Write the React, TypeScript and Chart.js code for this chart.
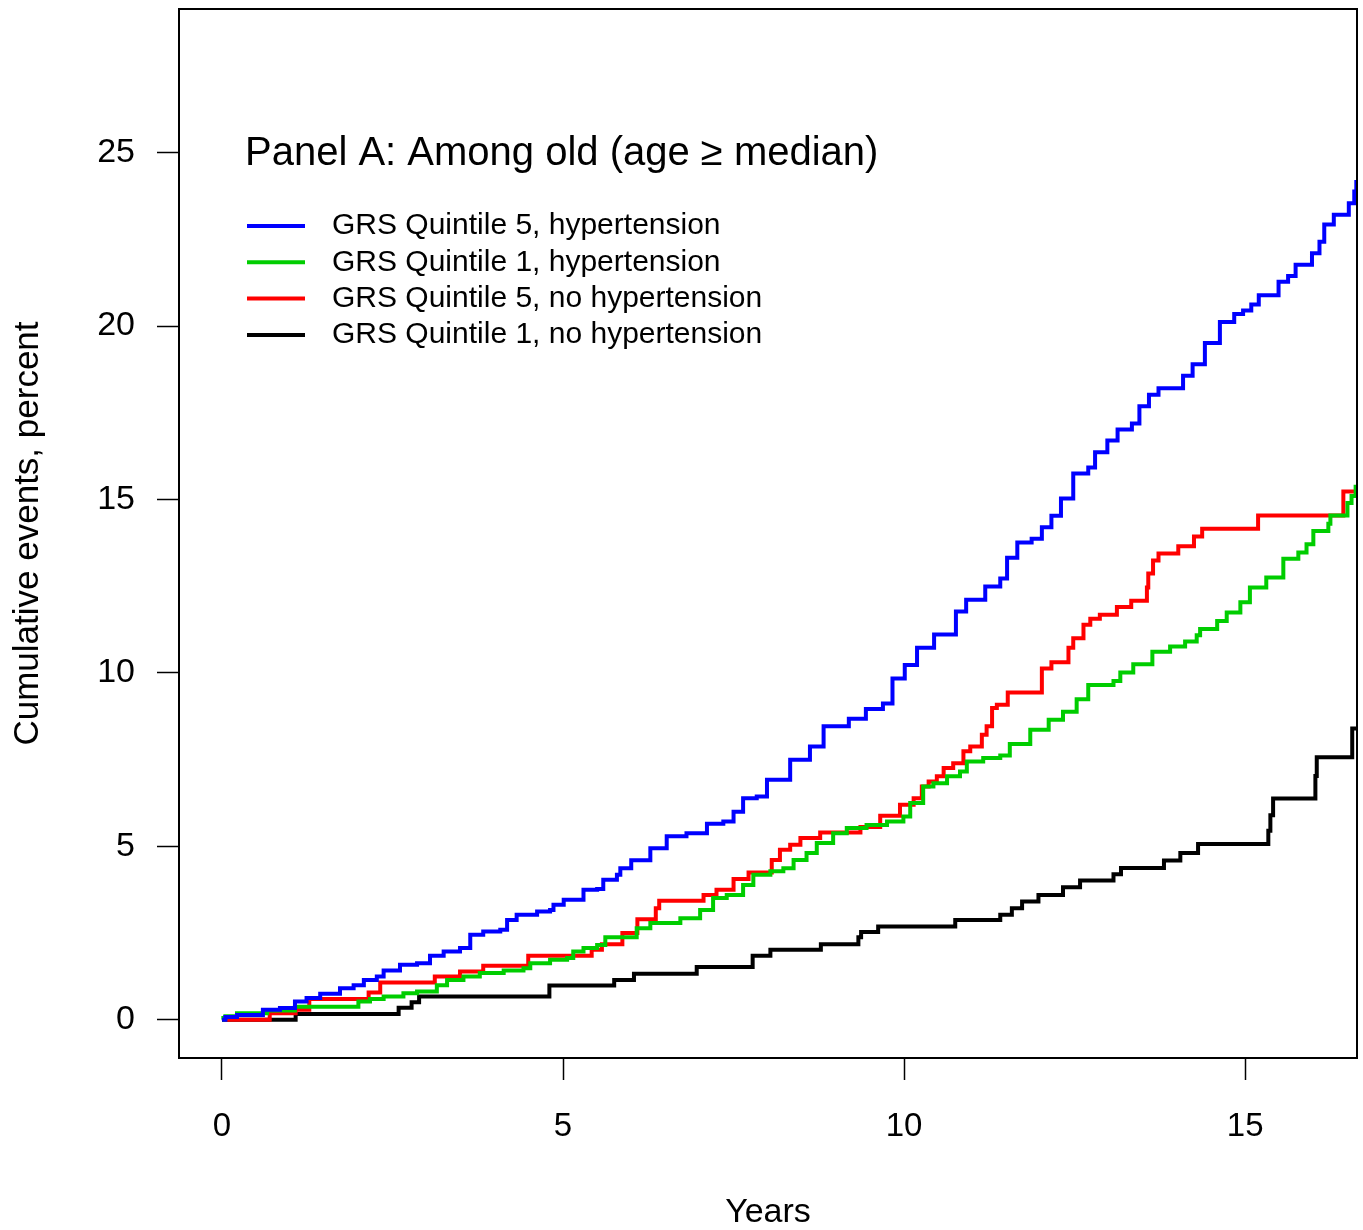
import React, { useEffect, useRef } from "react";
import { Chart, registerables } from "chart.js";

Chart.register(...registerables);

const FONT = "'Liberation Sans', Arial, Helvetica, sans-serif";

const panelTitle = "Panel A: Among old (age \u2265 median)";
const xAxisTitle = "Years";
const yAxisTitle = "Cumulative events, percent";
const xTicks = [0, 5, 10, 15];
const yTicks = [0, 5, 10, 15, 20, 25];

const seriesLabels = [
  "GRS Quintile 5, hypertension",
  "GRS Quintile 1, hypertension",
  "GRS Quintile 5, no hypertension",
  "GRS Quintile 1, no hypertension",
];
const seriesColors = ["#0000FF", "#00CD00", "#FF0000", "#000000"];

// GRS Quintile 5, hypertension (blue)
const q5HtnYears = [
  0, 0.05, 0.22, 0.6, 0.85, 1.07, 1.24, 1.44, 1.73, 1.93, 2.08, 2.27, 2.37, 2.61, 2.86, 3.05, 3.25, 3.49, 3.64,
  3.83, 4.08, 4.18, 4.32, 4.62, 4.81, 4.86, 5.01, 5.3, 5.5, 5.59, 5.79, 5.84, 6.0, 6.28, 6.52, 6.81, 7.11, 7.35,
  7.5, 7.64, 7.84, 7.99, 8.33, 8.62, 8.82, 9.19, 9.44, 9.69, 9.83, 10.01, 10.19, 10.44, 10.76, 10.91, 11.19,
  11.41, 11.51, 11.66, 11.87, 12.02, 12.16, 12.3, 12.48, 12.7, 12.8, 12.98, 13.13, 13.34, 13.45, 13.59, 13.73,
  14.09, 14.23, 14.41, 14.63, 14.84, 14.97, 15.09, 15.2, 15.49, 15.63, 15.74, 15.98, 16.09, 16.16, 16.3, 16.52,
  16.6, 16.63, 16.7,
];
const q5HtnPct = [
  0, 0.08, 0.14, 0.29, 0.34, 0.53, 0.63, 0.75, 0.91, 1.0, 1.15, 1.25, 1.42, 1.59, 1.63, 1.85, 1.97, 2.07, 2.45,
  2.55, 2.6, 2.88, 3.03, 3.12, 3.17, 3.32, 3.46, 3.75, 3.77, 4.04, 4.18, 4.37, 4.6, 4.95, 5.29, 5.38, 5.65, 5.72,
  6.0, 6.39, 6.44, 6.92, 7.5, 7.88, 8.46, 8.68, 8.96, 9.12, 9.84, 10.23, 10.73, 11.11, 11.77, 12.11, 12.49,
  12.72, 13.32, 13.76, 13.87, 14.2, 14.53, 15.03, 15.75, 15.92, 16.36, 16.7, 17.02, 17.19, 17.69, 18.02, 18.21,
  18.57, 18.9, 19.51, 20.12, 20.35, 20.45, 20.62, 20.89, 21.28, 21.44, 21.77, 22.1, 22.43, 22.93, 23.21, 23.54,
  23.88, 24.15, 24.15,
];

// GRS Quintile 1, hypertension (green)
const q1HtnYears = [
  0, 0.02, 0.05, 0.22, 0.66, 1.07, 2.0, 2.17, 2.37, 2.66, 2.86, 3.15, 3.3, 3.54, 3.78, 4.13, 4.42, 4.52, 4.81,
  5.06, 5.15, 5.3, 5.5, 5.62, 6.08, 6.28, 6.72, 7.01, 7.2, 7.4, 7.64, 7.79, 8.04, 8.23, 8.38, 8.57, 8.72, 8.96,
  9.16, 9.45, 9.75, 9.99, 10.09, 10.28, 10.43, 10.63, 10.82, 10.92, 11.16, 11.41, 11.55, 11.85, 12.12, 12.33,
  12.53, 12.7, 13.07, 13.17, 13.36, 13.64, 13.9, 14.12, 14.29, 14.34, 14.59, 14.73, 14.93, 15.07, 15.31, 15.56,
  15.78, 15.9, 16.0, 16.22, 16.25, 16.5, 16.56, 16.62, 16.7,
];
const q1HtnPct = [
  0, 0.05, 0.1, 0.19, 0.27, 0.38, 0.53, 0.6, 0.67, 0.77, 0.82, 1.0, 1.15, 1.25, 1.35, 1.42, 1.49, 1.63, 1.73,
  1.78, 1.97, 2.07, 2.16, 2.38, 2.64, 2.79, 2.93, 3.17, 3.51, 3.6, 3.89, 4.18, 4.28, 4.37, 4.61, 4.81, 5.1, 5.38,
  5.53, 5.62, 5.72, 5.86, 6.25, 6.73, 6.82, 7.02, 7.16, 7.45, 7.55, 7.62, 7.95, 8.36, 8.65, 8.88,
  9.24, 9.65, 9.77, 10.01, 10.25, 10.61, 10.76, 10.91, 11.09, 11.27, 11.5, 11.74, 12.04, 12.46, 12.75, 13.29,
  13.47, 13.71, 14.09, 14.3, 14.54, 14.9, 15.1, 15.37, 15.37,
];

// GRS Quintile 5, no hypertension (red)
const q5NoHtnYears = [
  0, 0.7, 1.08, 1.28, 2.15, 2.32, 3.12, 3.49, 3.83, 4.49, 5.42, 5.57, 5.87, 6.09, 6.36, 6.41, 7.06, 7.25, 7.5,
  7.72, 8.06, 8.18, 8.33, 8.48, 8.77, 9.36, 9.65, 9.94, 10.14, 10.26, 10.36, 10.48, 10.58, 10.72, 10.87, 10.97,
  11.14, 11.21, 11.29, 11.36, 11.52, 12.02, 12.16, 12.41, 12.48, 12.63, 12.73, 12.87, 13.12, 13.33, 13.56,
  13.58, 13.65, 13.73, 14.02, 14.25, 14.37, 15.19, 16.44, 16.7,
];
const q5NoHtnPct = [
  0, 0.19, 0.29, 0.6, 0.79, 1.08, 1.25, 1.39, 1.56, 1.85, 2.02, 2.18, 2.5, 2.9, 3.22, 3.43, 3.6, 3.75, 4.06,
  4.25, 4.61, 4.9, 5.05, 5.24, 5.4, 5.56, 5.88, 6.2, 6.39, 6.73, 6.87, 7.02, 7.26, 7.4, 7.74, 7.88,
  8.22, 8.46, 8.99, 9.08, 9.44, 10.13, 10.31, 10.73, 11.0, 11.39, 11.56, 11.68, 11.9, 12.08, 12.46,
  12.87, 13.24, 13.44, 13.65, 13.93, 14.16, 14.54, 15.23, 15.23,
];

// GRS Quintile 1, no hypertension (black)
const q1NoHtnYears = [
  0, 1.08, 2.59, 2.78, 2.89, 4.8, 5.75, 6.04, 6.96, 7.78, 8.04, 8.78, 9.33, 9.37, 9.62, 10.75, 11.41, 11.58,
  11.73, 11.97, 12.33, 12.58, 13.07, 13.18, 13.81, 14.05, 14.31, 15.34, 15.37, 15.41, 16.03, 16.05, 16.57, 16.7,
];
const q1NoHtnPct = [
  0, 0.17, 0.35, 0.51, 0.67, 0.99, 1.15, 1.33, 1.52, 1.85, 2.02, 2.18, 2.38, 2.53, 2.69, 2.88, 3.03, 3.22,
  3.41, 3.6, 3.82, 4.02, 4.2, 4.38, 4.59, 4.81, 5.07, 5.45, 5.9, 6.38, 7.03, 7.57, 8.4, 8.4,
];

const seriesYears = [q5HtnYears, q1HtnYears, q5NoHtnYears, q1NoHtnYears];
const seriesPct = [q5HtnPct, q1HtnPct, q5NoHtnPct, q1NoHtnPct];

const boxAndLegend = {
  id: "boxAndLegend",
  afterDatasetsDraw(chart: any) {
    const { ctx, chartArea } = chart;
    const { left, top, right, bottom } = chartArea;
    ctx.save();
    ctx.strokeStyle = "#000";
    ctx.lineWidth = 2;
    ctx.strokeRect(left, top, right - left, bottom - top);

    // panel title
    ctx.fillStyle = "#000";
    ctx.font = `40px ${FONT}`;
    ctx.textAlign = "left";
    ctx.textBaseline = "middle";
    ctx.fillText(panelTitle, left + 66, top + 145);

    // legend
    const rowY0 = top + 217;
    const rowGap = 36.3;
    ctx.font = `30px ${FONT}`;
    seriesLabels.forEach((label, i) => {
      const y = rowY0 + i * rowGap;
      ctx.strokeStyle = seriesColors[i];
      ctx.lineWidth = 4;
      ctx.beginPath();
      ctx.moveTo(left + 68, y);
      ctx.lineTo(left + 126, y);
      ctx.stroke();
      ctx.fillStyle = "#000";
      ctx.fillText(label, left + 153, y);
    });
    ctx.restore();
  },
};

export default function App() {
  const canvasRef = useRef<HTMLCanvasElement | null>(null);

  useEffect(() => {
    const canvas = canvasRef.current;
    if (!canvas) return;
    const datasets = seriesLabels.map((label, i) => ({
      label,
      data: seriesYears[i].map((t, j) => ({ x: t, y: seriesPct[i][j] })),
      borderColor: seriesColors[i],
      backgroundColor: seriesColors[i],
      borderWidth: 4,
      pointRadius: 0,
      pointHoverRadius: 0,
      stepped: true,
      tension: 0,
      fill: false,
      clip: 0,
      borderJoinStyle: "miter" as const,
    }));

    const chart = new Chart(canvas, {
      type: "line",
      data: { datasets },
      plugins: [boxAndLegend],
      options: {
        responsive: false,
        maintainAspectRatio: false,
        animation: false,
        devicePixelRatio: 1,
        layout: { padding: { top: 9, right: 6, left: 0, bottom: 0 } },
        plugins: {
          legend: { display: false },
          tooltip: { enabled: false },
          title: { display: false },
        },
        scales: {
          x: {
            type: "linear",
            min: -0.63,
            max: 16.64,
            afterBuildTicks: (s: any) => {
              s.ticks = xTicks.map((v) => ({ value: v }));
            },
            afterFit: (s: any) => {
              s.height = 172;
              s.paddingLeft = 0;
              s.paddingRight = 0;
            },
            ticks: {
              font: { family: FONT, size: 33 },
              color: "#000",
              padding: 27,
              maxRotation: 0,
              autoSkip: false,
              callback: (v: any) => String(v),
            },
            grid: {
              display: true,
              drawOnChartArea: false,
              drawTicks: true,
              tickLength: 22,
              tickWidth: 1.5,
              tickColor: "#000",
              color: "#000",
            },
            border: { display: false },
            title: {
              display: true,
              text: xAxisTitle,
              font: { family: FONT, size: 34 },
              color: "#000",
              padding: { top: 0, bottom: -3 },
            },
          },
          y: {
            type: "linear",
            min: -1.1,
            max: 29.14,
            afterBuildTicks: (s: any) => {
              s.ticks = yTicks.map((v) => ({ value: v }));
            },
            afterFit: (s: any) => {
              s.width = 179;
              s.paddingTop = 0;
              s.paddingBottom = 0;
            },
            ticks: {
              font: { family: FONT, size: 34 },
              color: "#000",
              padding: 22,
              autoSkip: false,
              callback: (v: any) => String(v),
            },
            grid: {
              display: true,
              drawOnChartArea: false,
              drawTicks: true,
              tickLength: 22,
              tickWidth: 1.5,
              tickColor: "#000",
              color: "#000",
            },
            border: { display: false },
            title: {
              display: true,
              text: yAxisTitle,
              font: { family: FONT, size: 35 },
              color: "#000",
              padding: { top: 7, bottom: 0 },
            },
          },
        },
      },
    });
    return () => chart.destroy();
  }, []);

  return (
    <div style={{ position: "absolute", left: 0, top: 0, width: 1363, height: 1230, background: "#fff" }}>
      <canvas ref={canvasRef} width={1363} height={1230} style={{ display: "block" }} />
    </div>
  );
}
